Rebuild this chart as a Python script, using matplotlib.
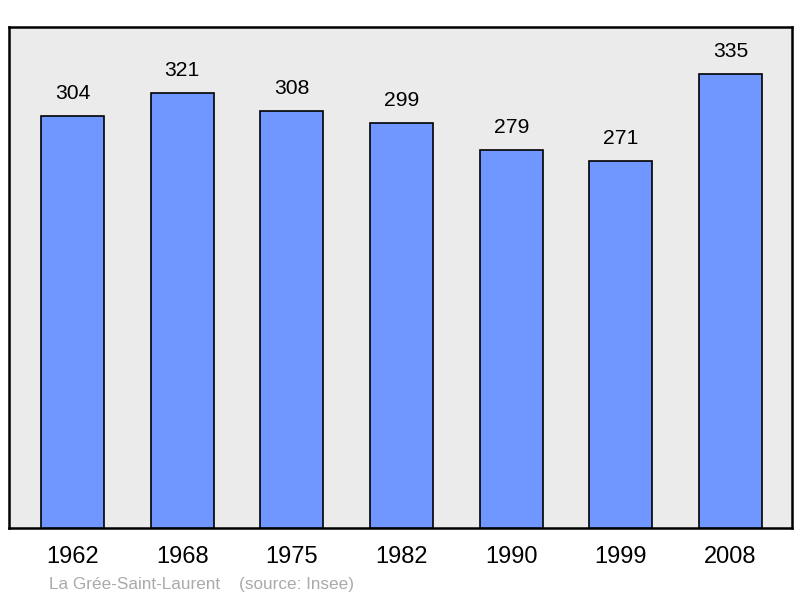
import matplotlib
matplotlib.use('Agg')
import matplotlib.pyplot as plt

years = ['1962', '1968', '1975', '1982', '1990', '1999', '2008']
population = [304, 321, 308, 299, 279, 271, 335]

plt.rcParams['font.family'] = ['Liberation Sans', 'DejaVu Sans']

fig = plt.figure(figsize=(8, 5.98), dpi=100)
ax = fig.add_axes([9 / 800, 70 / 598, 783 / 800, 501 / 598])
ax.set_facecolor('#ebebeb')

x = range(len(years))
ax.bar(x, population, width=0.575, color='#7097ff', edgecolor='black', linewidth=1.2, zorder=3)

# value labels above bars
for xi, v in zip(x, population):
    ax.annotate(str(v), (xi, v), xytext=(0, 16), textcoords='offset points',
                ha='center', va='center', fontsize=15.2)

ax.set_xlim(-0.58, 6.56)
ax.set_ylim(0, 369.7)
ax.set_xticks(list(x))
ax.set_xticklabels(years, fontsize=17)
ax.tick_params(axis='x', length=0, pad=13)
ax.set_yticks([])
for s in ax.spines.values():
    s.set_linewidth(1.8)
    s.set_color('black')

fig.text(49 / 800, 1 - 584 / 598, 'La Grée-Saint-Laurent    (source: Insee)',
         color='#aaaaaa', fontsize=12.3, va='center', ha='left')

fig.savefig('out.png', dpi=100)
